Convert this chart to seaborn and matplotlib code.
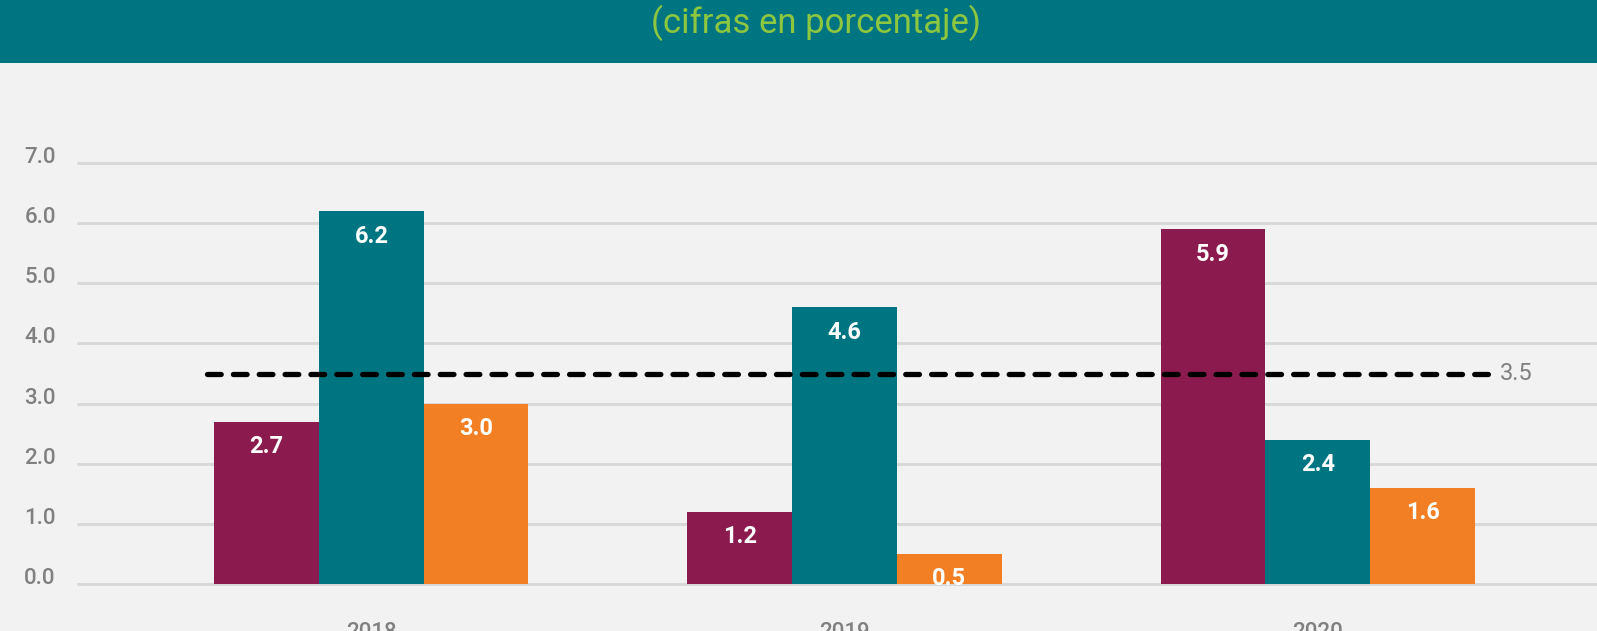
import pandas as pd
import seaborn as sns
import matplotlib.pyplot as plt
from matplotlib.patches import Rectangle

# --- data ---
years = ["2018", "2019", "2020"]
series = ["Serie 1", "Serie 2", "Serie 3"]
serie_1 = [2.7, 1.2, 5.9]
serie_2 = [6.2, 4.6, 2.4]
serie_3 = [3.0, 0.5, 1.6]
reference_value = 3.5
y_ticks = [0.0, 1.0, 2.0, 3.0, 4.0, 5.0, 6.0, 7.0]
title = "(cifras en porcentaje)"

colors = ["#8B1B4E", "#007582", "#F37F24"]
bg = "#F2F2F2"
grid_color = "#D9D9D9"
text_gray = "#808080"

df = pd.DataFrame({
    "year": years * 3,
    "serie": [s for s in series for _ in years],
    "value": serie_1 + serie_2 + serie_3,
})

sns.set_theme(style="white")
plt.rcParams["font.family"] = ["Roboto", "DejaVu Sans"]

fig = plt.figure(figsize=(15.97, 6.31), dpi=100, facecolor=bg)
ax = fig.add_axes([78 / 1597, 47 / 631, 1 - 78 / 1597, 421 / 631])
ax.set_facecolor(bg)

sns.barplot(data=df, x="year", y="value", hue="serie", hue_order=series,
            palette=colors, width=0.664, saturation=1, gap=0,
            legend=False, ax=ax, linewidth=0)

# value labels inside the top of each bar
for container in ax.containers:
    for bar in container:
        v = bar.get_height()
        ax.annotate(f"{v:.1f}", (bar.get_x() + bar.get_width() / 2, v),
                    xytext=(0, -18), textcoords="offset points",
                    ha="center", va="center", color="white",
                    fontsize=17, fontweight="bold")

# reference dashed line
ax.hlines(reference_value, -0.347, 2.37, colors="black", linewidth=3.8,
          linestyles=(0, (2.6, 2.3)), capstyle="round", zorder=3)
ax.text(2.385, reference_value, f"{reference_value:.1f}", color=text_gray,
        fontsize=17, va="center", ha="left")

ax.set_ylim(0, 7)
ax.set_xlim(-0.62, 2.59)
ax.set_yticks(y_ticks)
ax.set_yticklabels([f"{t:.1f}" for t in y_ticks])
ax.yaxis.grid(True, color=grid_color, linewidth=2.2)
for line in ax.get_ygridlines():
    line.set_clip_on(False)
ax.set_axisbelow(True)
for s in ax.spines.values():
    s.set_visible(False)

ax.tick_params(axis="y", length=0, pad=16, labelsize=16, labelcolor=text_gray)
ax.tick_params(axis="x", length=0, pad=27, labelsize=16, labelcolor=text_gray)
for lbl in ax.get_yticklabels():
    lbl.set_fontweight("medium")
    lbl.set_va("baseline")
for lbl in ax.get_xticklabels():
    lbl.set_fontweight("medium")
ax.set_xlabel("")
ax.set_ylabel("")

# teal header band with subtitle
fig.add_artist(Rectangle((0, 1 - 63 / 631), 1, 63 / 631, transform=fig.transFigure,
                         facecolor="#007582", edgecolor="none", zorder=0))
fig.text(0.511, 1 - 23 / 631, title, color="#8DC63F", fontsize=25,
         fontweight="normal", ha="center", va="center")

fig.savefig("out.png", dpi=100, facecolor=bg)
